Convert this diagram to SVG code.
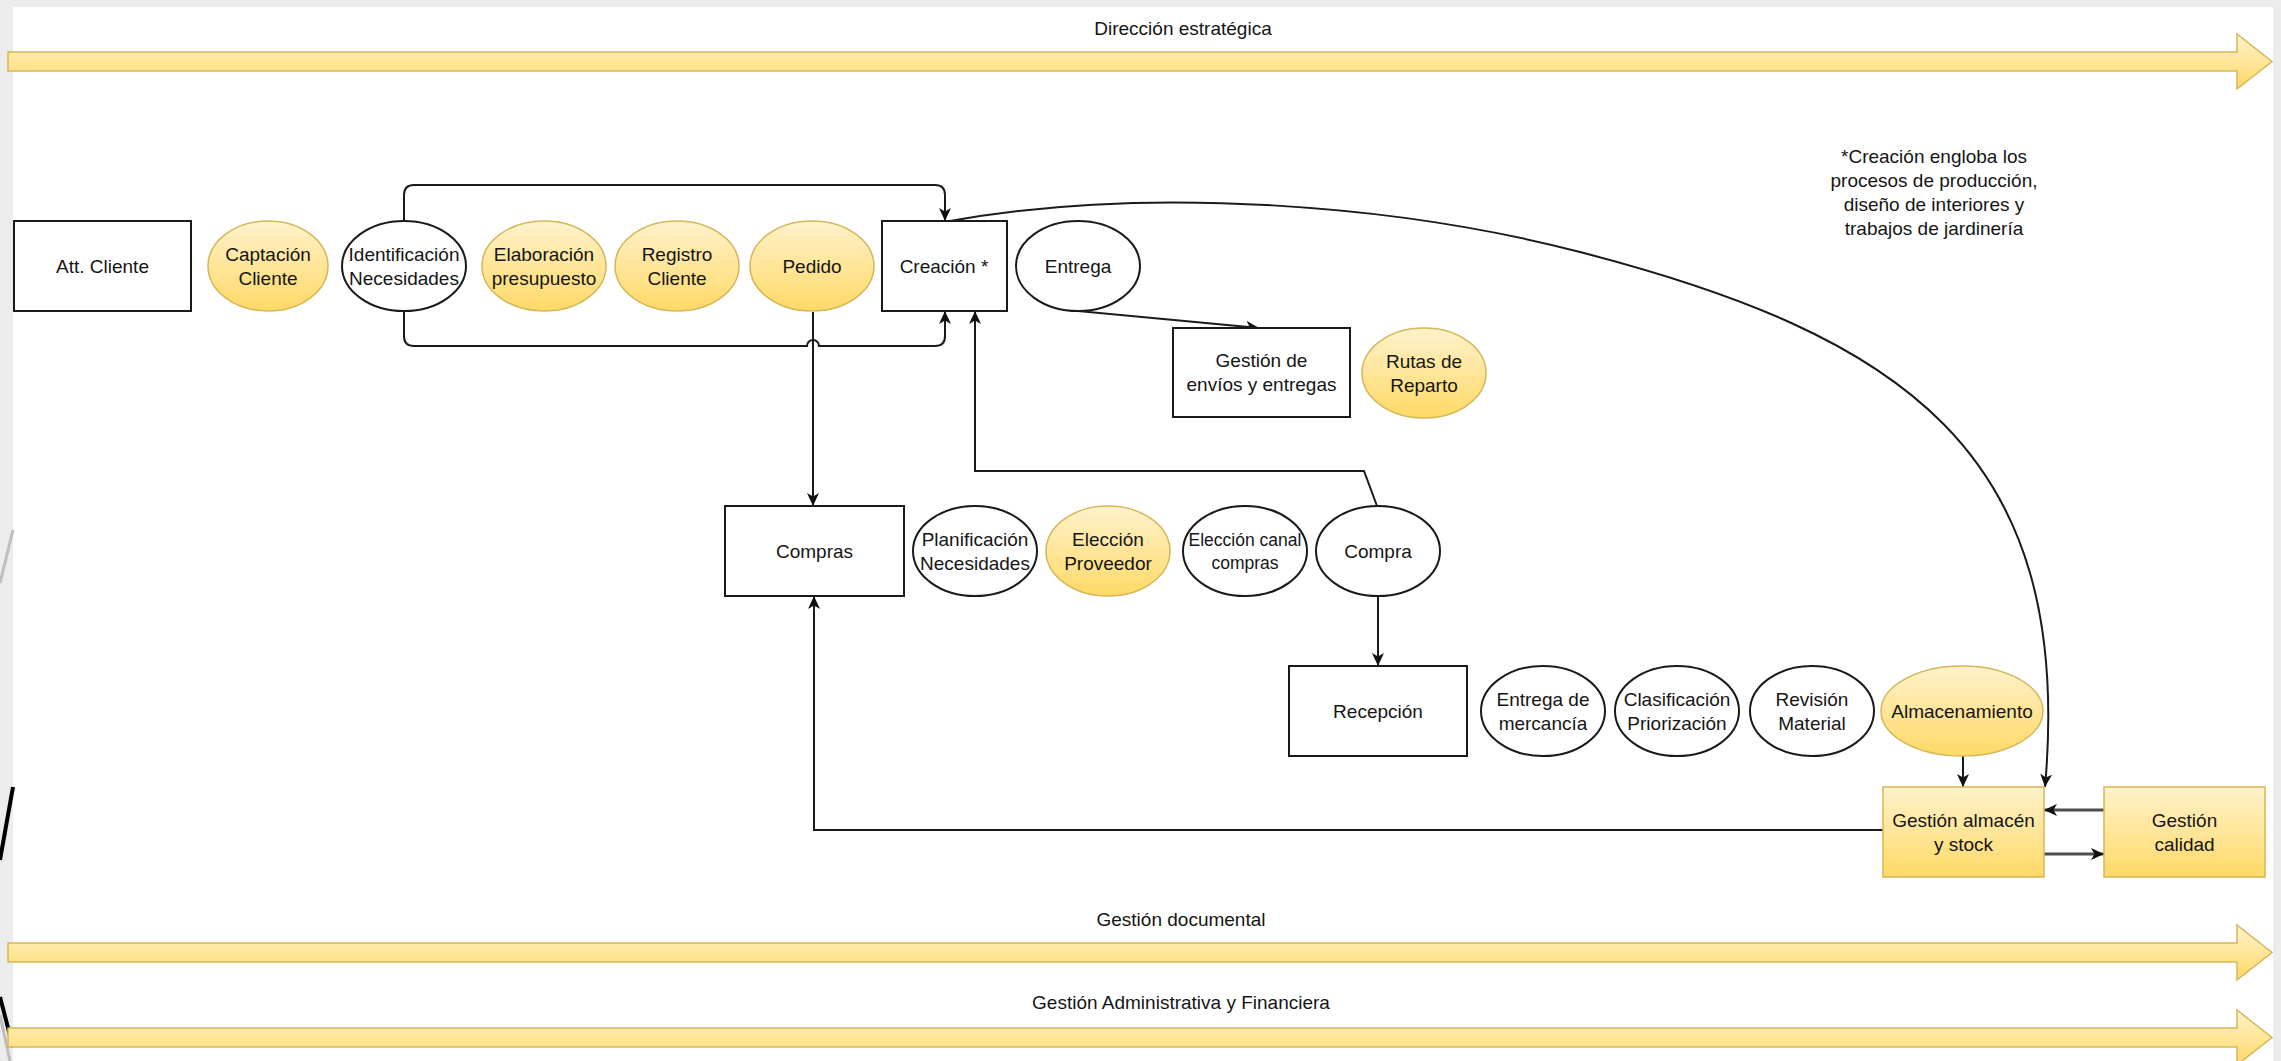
<svg xmlns="http://www.w3.org/2000/svg" width="2281" height="1061" viewBox="0 0 2281 1061">
<defs>
<linearGradient id="yg" x1="0" y1="0" x2="0" y2="1">
<stop offset="0" stop-color="#fff2cc"/>
<stop offset="1" stop-color="#ffd966"/>
</linearGradient>
<marker id="ah" markerUnits="userSpaceOnUse" markerWidth="14" markerHeight="12" refX="13" refY="6" orient="auto">
<path d="M0,0 L13,6 L0,12 L3.5,6 z" fill="#111"/>
</marker>
<style>
.t{font-family:"Liberation Sans",Arial,sans-serif;font-size:19px;fill:#151515;text-anchor:middle}
.w{fill:#fff;stroke:#1a1a1a;stroke-width:2}
.y{fill:url(#yg);stroke:#d6b656;stroke-width:1.5}
.band{fill:url(#yg);stroke:#d6b656;stroke-width:1.5}
.c{fill:none;stroke:#1a1a1a;stroke-width:2;marker-end:url(#ah)}
.g{fill:none;stroke:#4d4d4d;stroke-width:3;marker-end:url(#ah)}
</style>
</defs>
<rect x="0" y="0" width="2281" height="1061" fill="#ececec"/>
<rect x="13" y="7" width="2260" height="1054" fill="#ffffff"/>
<g id="decor">
<path d="M13 530 L0 583" stroke="#bdbdbd" stroke-width="3"/>
<path d="M13 787 L0 860" stroke="#000" stroke-width="4"/>
<path d="M0 997 L13 1047" stroke="#000" stroke-width="4"/>
<path d="M0 1015 L10 1061" stroke="#bdbdbd" stroke-width="3"/>
</g>
<g id="lane-direccion">
<polygon class="band" points="8,52 2237,52 2237,34 2272,61.5 2237,89 2237,71 8,71"/>
<text class="t" x="1183" y="35">Dirección estratégica</text>
</g>
<g id="lane-documental">
<polygon class="band" points="8,943 2237,943 2237,925 2272,952.5 2237,980 2237,962 8,962"/>
<text class="t" x="1181" y="926">Gestión documental</text>
</g>
<g id="lane-administrativa">
<polygon class="band" points="8,1028 2237,1028 2237,1010 2272,1037.5 2237,1065 2237,1047 8,1047"/>
<text class="t" x="1181" y="1009">Gestión Administrativa y Financiera</text>
</g>
<g id="connectors">
<path class="c" d="M404 221 V195 Q404 185 414 185 H935 Q945 185 945 195 V221"/>
<path class="c" d="M404 311 V336 Q404 346 414 346 H807 A6 6 0 0 1 819 346 H935 Q945 346 945 336 V311"/>
<path class="c" d="M813 312 V506"/>
<path class="c" d="M950 221 C1150 185 1400 205 1580 252 C1900 335 2075 450 2045 787"/>
<path class="c" d="M1078 311 L1259 328"/>
<path class="c" d="M1377 506 L1364 471 H975 V311"/>
<path class="c" d="M1378 596 V666"/>
<path class="c" d="M1963 756 V787"/>
<path class="c" d="M1883 830 H814 V596"/>
<path class="g" d="M2104 810 H2044"/>
<path class="g" d="M2044 854 H2104"/>
</g>
<g id="att-cliente"><rect class="w" x="14" y="221" width="177" height="90"/><text class="t" x="102.5" y="273">Att. Cliente</text></g>
<g id="captacion"><ellipse class="y" cx="268" cy="266" rx="60" ry="45"/><text class="t" x="268" y="261">Captación</text><text class="t" x="268" y="285">Cliente</text></g>
<g id="identificacion"><ellipse class="w" cx="404" cy="266" rx="62" ry="45"/><text class="t" x="404" y="261">Identificación</text><text class="t" x="404" y="285">Necesidades</text></g>
<g id="elaboracion"><ellipse class="y" cx="544" cy="266" rx="62" ry="45"/><text class="t" x="544" y="261">Elaboración</text><text class="t" x="544" y="285">presupuesto</text></g>
<g id="registro"><ellipse class="y" cx="677" cy="266" rx="62" ry="45"/><text class="t" x="677" y="261">Registro</text><text class="t" x="677" y="285">Cliente</text></g>
<g id="pedido"><ellipse class="y" cx="812" cy="266" rx="62" ry="45"/><text class="t" x="812" y="273">Pedido</text></g>
<g id="creacion"><rect class="w" x="882" y="221" width="125" height="90"/><text class="t" x="944" y="273">Creación *</text></g>
<g id="entrega"><ellipse class="w" cx="1078" cy="266" rx="62" ry="45"/><text class="t" x="1078" y="273">Entrega</text></g>
<g id="gestion-envios"><rect class="w" x="1173" y="328" width="177" height="89"/><text class="t" x="1261.5" y="367">Gestión de</text><text class="t" x="1261.5" y="391">envíos y entregas</text></g>
<g id="rutas"><ellipse class="y" cx="1424" cy="373" rx="62" ry="45"/><text class="t" x="1424" y="368">Rutas de</text><text class="t" x="1424" y="392">Reparto</text></g>
<g id="compras"><rect class="w" x="725" y="506" width="179" height="90"/><text class="t" x="814.5" y="558">Compras</text></g>
<g id="planificacion"><ellipse class="w" cx="975" cy="551" rx="62" ry="45"/><text class="t" x="975" y="546">Planificación</text><text class="t" x="975" y="570">Necesidades</text></g>
<g id="eleccion-proveedor"><ellipse class="y" cx="1108" cy="551" rx="62" ry="45"/><text class="t" x="1108" y="546">Elección</text><text class="t" x="1108" y="570">Proveedor</text></g>
<g id="eleccion-canal"><ellipse class="w" cx="1245" cy="551" rx="62" ry="45"/><text class="t" x="1245" y="546" style="font-size:17.5px">Elección canal</text><text class="t" x="1245" y="569" style="font-size:17.5px">compras</text></g>
<g id="compra"><ellipse class="w" cx="1378" cy="551" rx="62" ry="45"/><text class="t" x="1378" y="558">Compra</text></g>
<g id="recepcion"><rect class="w" x="1289" y="666" width="178" height="90"/><text class="t" x="1378" y="718">Recepción</text></g>
<g id="entrega-mercancia"><ellipse class="w" cx="1543" cy="711" rx="62" ry="45"/><text class="t" x="1543" y="706">Entrega de</text><text class="t" x="1543" y="730">mercancía</text></g>
<g id="clasificacion"><ellipse class="w" cx="1677" cy="711" rx="62" ry="45"/><text class="t" x="1677" y="706">Clasificación</text><text class="t" x="1677" y="730">Priorización</text></g>
<g id="revision"><ellipse class="w" cx="1812" cy="711" rx="62" ry="45"/><text class="t" x="1812" y="706">Revisión</text><text class="t" x="1812" y="730">Material</text></g>
<g id="almacenamiento"><ellipse class="y" cx="1962" cy="711" rx="81" ry="45"/><text class="t" x="1962" y="718">Almacenamiento</text></g>
<g id="gestion-almacen"><rect class="y" x="1883" y="787" width="161" height="90"/><text class="t" x="1963.5" y="827">Gestión almacén</text><text class="t" x="1963.5" y="851">y stock</text></g>
<g id="gestion-calidad"><rect class="y" x="2104" y="787" width="161" height="90"/><text class="t" x="2184.5" y="827">Gestión</text><text class="t" x="2184.5" y="851">calidad</text></g>
<g id="nota">
<text class="t" x="1934" y="163">*Creación engloba los</text>
<text class="t" x="1934" y="187">procesos de producción,</text>
<text class="t" x="1934" y="211">diseño de interiores y</text>
<text class="t" x="1934" y="235">trabajos de jardinería</text>
</g>
</svg>
